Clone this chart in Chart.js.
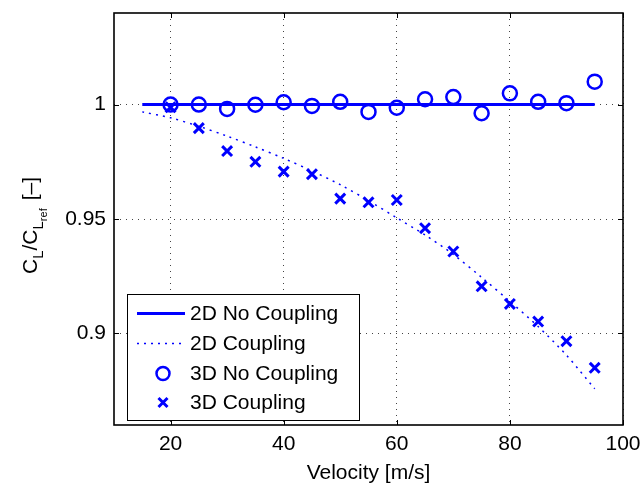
<!DOCTYPE html>
<html>
<head>
<meta charset="utf-8">
<script src="https://cdn.jsdelivr.net/npm/chart.js@4.4.1/dist/chart.umd.min.js"></script>
<style>
  html, body { margin: 0; padding: 0; background: #fff; }
  #wrap { width: 643px; height: 486px; }
</style>
</head>
<body>
<div id="wrap"><canvas id="c" width="643" height="486"></canvas></div>
<script>
// ---- data ----
const lineVelocity = [15, 20, 25, 30, 35, 40, 45, 50, 55, 60, 65, 70, 75, 80, 85, 90, 95];
const noCoupling2D = [1, 1, 1, 1, 1, 1, 1, 1, 1, 1, 1, 1, 1, 1, 1, 1, 1];
const coupling2D = [0.9968, 0.9942, 0.9905, 0.9862, 0.9815, 0.9765, 0.9710, 0.9650, 0.9580, 0.9505, 0.9430, 0.9345, 0.9245, 0.9140, 0.9030, 0.8905, 0.8758];
const pointVelocity = [20, 25, 30, 35, 40, 45, 50, 55, 60, 65, 70, 75, 80, 85, 90, 95];
const noCoupling3D = [1.0000, 1.0000, 0.9981, 0.9999, 1.0010, 0.9994, 1.0012, 0.9968, 0.9986, 1.0023, 1.0033, 0.9962, 1.0049, 1.0012, 1.0006, 1.0100];
const coupling3D = [0.9988, 0.9897, 0.9797, 0.9750, 0.9707, 0.9696, 0.9589, 0.9573, 0.9583, 0.9460, 0.9358, 0.9206, 0.9129, 0.9052, 0.8966, 0.8850];
const xTicks = [20, 40, 60, 80, 100];
const yTicks = [0.9, 0.95, 1];
const seriesLabels = ['2D No Coupling', '2D Coupling', '3D No Coupling', '3D Coupling'];

const FONT = '"Liberation Sans", Arial, Helvetica, sans-serif';
const BLUE = '#0000ff';

function pts(xs, ys) { return xs.map((x, i) => ({ x: x, y: ys[i] })); }

// ---- plugins ----
const framePlugin = {
  id: 'frame',
  afterDatasetsDraw(chart) {
    const ctx = chart.ctx, a = chart.chartArea;
    const xs = chart.scales.x, ys = chart.scales.y;
    ctx.save();
    ctx.strokeStyle = '#000';
    ctx.lineWidth = 1;
    ctx.beginPath();
    xTicks.forEach(v => {
      const px = Math.round(xs.getPixelForValue(v)) + 0.5;
      ctx.moveTo(px, a.bottom); ctx.lineTo(px, a.bottom - 5);
      ctx.moveTo(px, a.top); ctx.lineTo(px, a.top + 5);
    });
    yTicks.forEach(v => {
      const py = Math.round(ys.getPixelForValue(v)) + 0.5;
      ctx.moveTo(a.left, py); ctx.lineTo(a.left + 5, py);
      ctx.moveTo(a.right, py); ctx.lineTo(a.right - 5, py);
    });
    ctx.stroke();
    ctx.lineWidth = 1.6;
    ctx.strokeRect(a.left, a.top, a.right - a.left, a.bottom - a.top);
    ctx.restore();
  }
};

const legendPlugin = {
  id: 'boxLegend',
  afterDraw(chart) {
    const ctx = chart.ctx;
    const L = 127, T = 294, R = 359, B = 420;
    ctx.save();
    ctx.fillStyle = '#fff';
    ctx.fillRect(L, T, R - L, B - T);
    ctx.strokeStyle = '#000';
    ctx.lineWidth = 1;
    ctx.strokeRect(L + 0.5, T + 0.5, R - L, B - T);
    const rows = [313.5, 343.5, 373.5, 402.5];
    const ds = chart.data.datasets;
    ctx.font = '21px ' + FONT;
    ctx.textBaseline = 'middle';
    ctx.textAlign = 'left';
    rows.forEach((y, i) => {
      const d = ds[i];
      ctx.strokeStyle = BLUE;
      if (i === 0) {
        ctx.lineWidth = 3; ctx.setLineDash([]);
        ctx.beginPath(); ctx.moveTo(137, y); ctx.lineTo(185, y); ctx.stroke();
      } else if (i === 1) {
        ctx.lineWidth = 1.5; ctx.setLineDash([2, 5]);
        ctx.beginPath(); ctx.moveTo(137, y); ctx.lineTo(185, y); ctx.stroke();
        ctx.setLineDash([]);
      } else if (i === 2) {
        ctx.lineWidth = 2.5;
        ctx.beginPath(); ctx.arc(163, y, 6.5, 0, Math.PI * 2); ctx.stroke();
      } else {
        ctx.lineWidth = 3;
        const r = 4.5;
        ctx.beginPath();
        ctx.moveTo(163 - r, y - r); ctx.lineTo(163 + r, y + r);
        ctx.moveTo(163 - r, y + r); ctx.lineTo(163 + r, y - r);
        ctx.stroke();
      }
      ctx.fillStyle = '#000';
      ctx.fillText(d.label, 190, y + 1);
    });
    ctx.restore();
  }
};

const yTitlePlugin = {
  id: 'yTitle',
  afterDraw(chart) {
    const ctx = chart.ctx;
    ctx.save();
    ctx.translate(37, 274);
    ctx.rotate(-Math.PI / 2);
    ctx.fillStyle = '#000';
    ctx.textBaseline = 'alphabetic';
    ctx.textAlign = 'left';
    let x = 0;
    const big = '21px ' + FONT, sub = '15px ' + FONT, sub2 = '11px ' + FONT;
    function put(t, f, dy) { ctx.font = f; ctx.fillText(t, x, dy); x += ctx.measureText(t).width; }
    put('C', big, 0);
    put('L', sub, 6);
    put('/C', big, 0);
    put('L', sub, 6);
    put('ref', sub2, 10);
    x += 8;
    put('[\u2013]', big, 0);
    ctx.restore();
  }
};

// ---- chart ----
new Chart(document.getElementById('c'), {
  type: 'scatter',
  data: {
    datasets: [
      {
        label: seriesLabels[0],
        data: pts(lineVelocity, noCoupling2D),
        showLine: true, borderColor: BLUE, borderWidth: 3, pointRadius: 0, fill: false
      },
      {
        label: seriesLabels[1],
        data: pts(lineVelocity, coupling2D),
        showLine: true, borderColor: BLUE, borderWidth: 1.5, borderDash: [2, 5],
        pointRadius: 0, fill: false, tension: 0.3
      },
      {
        label: seriesLabels[2],
        data: pts(pointVelocity, noCoupling3D),
        showLine: false, pointStyle: 'circle', pointRadius: 7,
        pointBorderWidth: 2.5, pointBorderColor: BLUE, pointBackgroundColor: 'rgba(0,0,0,0)'
      },
      {
        label: seriesLabels[3],
        data: pts(pointVelocity, coupling3D),
        showLine: false, pointStyle: 'crossRot', pointRadius: 7,
        pointBorderWidth: 3, pointBorderColor: BLUE, pointBackgroundColor: BLUE
      }
    ]
  },
  options: {
    responsive: false,
    animation: false,
    events: [],
    layout: { padding: { left: 0, top: 13, right: 20, bottom: 0 } },
    plugins: { legend: { display: false }, tooltip: { enabled: false }, title: { display: false } },
    scales: {
      x: {
        type: 'linear', min: 10, max: 100,
        afterBuildTicks(s) { s.ticks = xTicks.map(v => ({ value: v })); },
        afterFit(s) { s.height = 61; s.paddingLeft = 0; s.paddingRight = 0; },
        border: { display: false, dash: [1, 5] },
        grid: { color: '#444', lineWidth: 1, drawTicks: false },
        ticks: { padding: 7, color: '#000', font: { family: FONT, size: 21 }, maxRotation: 0,
                 callback: v => String(v) },
        title: { display: true, text: 'Velocity [m/s]', color: '#000',
                 font: { family: FONT, size: 21 }, padding: { top: 0, bottom: 0 } }
      },
      y: {
        type: 'linear', min: 0.86, max: 1.04,
        afterBuildTicks(s) { s.ticks = yTicks.map(v => ({ value: v })); },
        afterFit(s) { s.width = 114; s.paddingTop = 0; s.paddingBottom = 0; },
        border: { display: false, dash: [1, 5] },
        grid: { color: '#444', lineWidth: 1, drawTicks: false },
        ticks: { padding: 8, color: '#000', font: { family: FONT, size: 21 },
                 callback: v => String(v) }
      }
    }
  },
  plugins: [framePlugin, legendPlugin, yTitlePlugin]
});
</script>
</body>
</html>
